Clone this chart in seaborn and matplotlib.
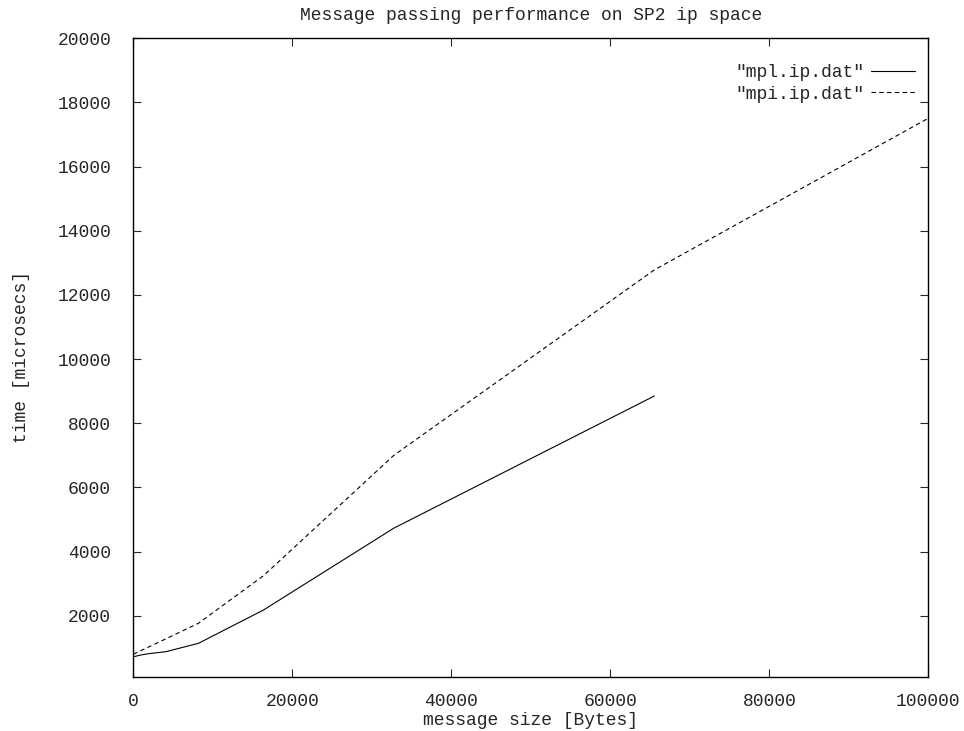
import numpy as np
import pandas as pd
import matplotlib
matplotlib.use("Agg")
import matplotlib.pyplot as plt
import seaborn as sns

# Message sizes in bytes and round-trip times in microseconds
mpl_sizes = [0, 1024, 2048, 4096, 8192, 16384, 32768, 65536]
mpl_times = [720, 780, 820, 880, 1140, 2180, 4730, 8850]

mpi_sizes = [0, 1024, 2048, 4096, 8192, 16384, 32768, 65536, 131072]
mpi_times = [800, 920, 1040, 1280, 1765, 3250, 7000, 12780, 21770]

series_names = ['"mpl.ip.dat"', '"mpi.ip.dat"']

x_ticks = [0, 20000, 40000, 60000, 80000, 100000]
y_ticks = [2000, 4000, 6000, 8000, 10000, 12000, 14000, 16000, 18000, 20000]

df = pd.concat([
    pd.DataFrame({"size": mpl_sizes, "time": mpl_times, "series": series_names[0]}),
    pd.DataFrame({"size": mpi_sizes, "time": mpi_times, "series": series_names[1]}),
], ignore_index=True)

sns.set_style("white")
plt.rcParams["font.family"] = ["Liberation Mono", "DejaVu Sans Mono"]
FS = 13.0

fig = plt.figure(figsize=(9.64, 7.31), dpi=100)
ax = fig.add_axes([0.1383, 0.0743, 0.8247, 0.8733])

sns.lineplot(
    data=df, x="size", y="time", hue="series", style="series",
    hue_order=series_names, style_order=series_names,
    palette=["black", "black"], dashes=[(None, None), (4, 3)],
    sort=False, estimator=None, linewidth=0.8, ax=ax,
)

ax.set_xlim(0, 100000)
ax.set_ylim(100, 20000)
ax.set_xticks(x_ticks)
ax.set_xticklabels([str(v) for v in x_ticks])
ax.set_yticks(y_ticks)
ax.set_yticklabels([str(v) for v in y_ticks])

ax.tick_params(direction="in", length=6, width=0.8, labelsize=FS,
               top=True, right=True, bottom=True, left=True)
ax.tick_params(axis="x", pad=12)
ax.tick_params(axis="y", pad=16)
for sp in ax.spines.values():
    sp.set_visible(True)
    sp.set_linewidth(1.0)
    sp.set_color("black")

ax.set_title("Message passing performance on SP2 ip space", fontsize=FS, pad=13)
ax.set_xlabel("message size [Bytes]", fontsize=FS, labelpad=1.5)
ax.set_ylabel("time [microsecs]", fontsize=FS, labelpad=20)

handles, labels = ax.get_legend_handles_labels()
ax.legend(handles, labels, loc="upper right", bbox_to_anchor=(0.9917, 0.971),
          borderaxespad=0, frameon=False, markerfirst=False, fontsize=FS,
          handlelength=2.4, handletextpad=0.4, labelspacing=0.25)

fig.savefig("out.png", dpi=100, facecolor="white")
